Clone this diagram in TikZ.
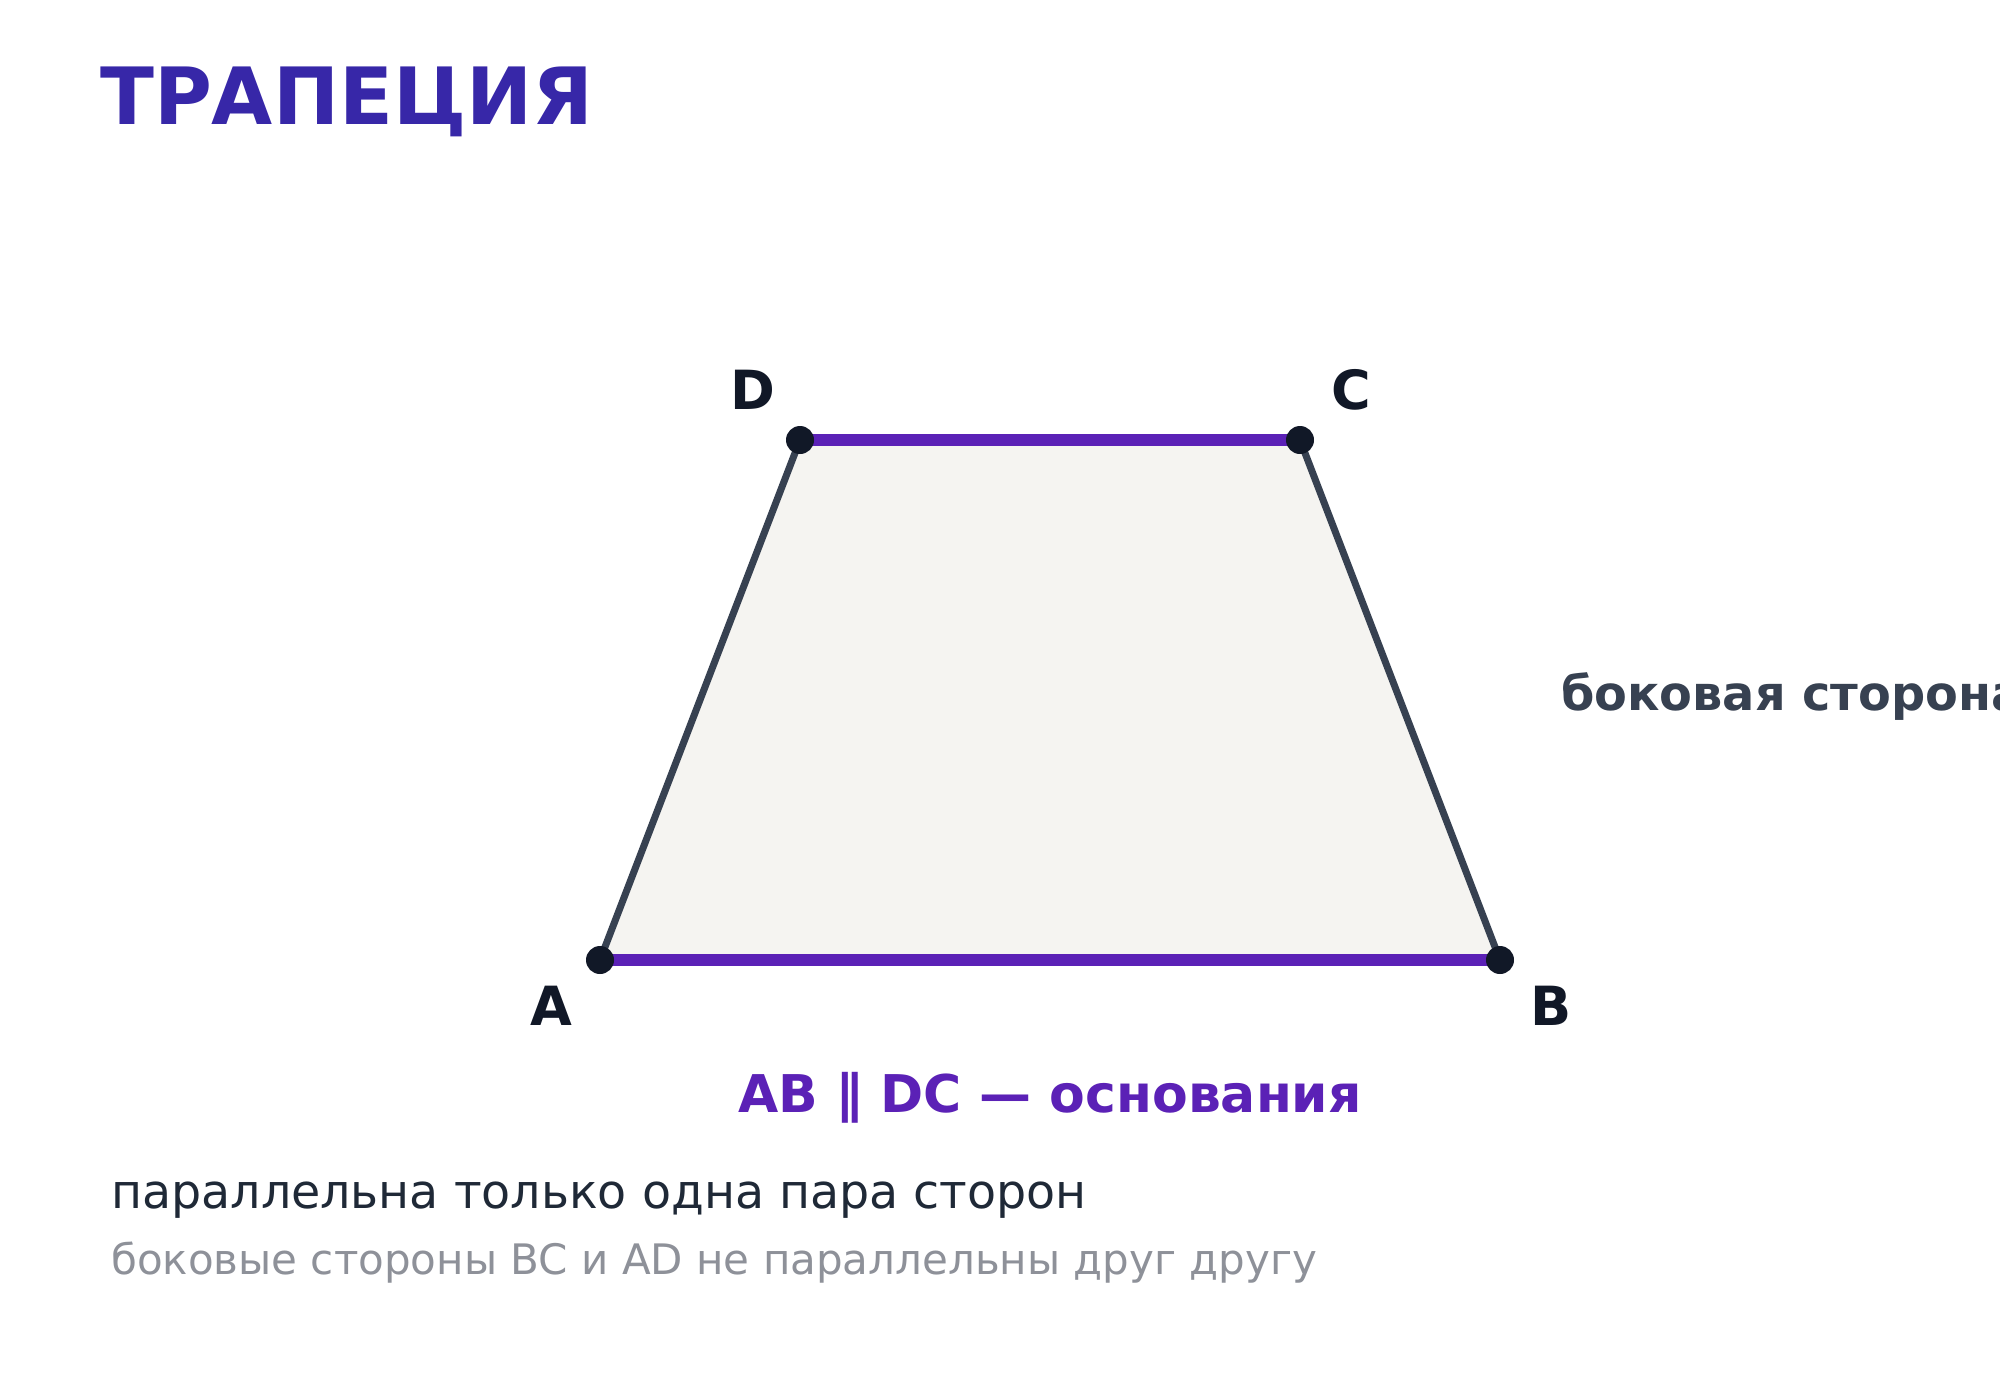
\documentclass[tikz,border=0pt]{standalone}
\usepackage{fontspec}
\setmainfont{DejaVu Sans}
\definecolor{titlecol}{HTML}{3727A8}
\definecolor{basecol}{HTML}{5B21B6}
\definecolor{sidecol}{HTML}{374151}
\definecolor{dotcol}{HTML}{111827}
\definecolor{fillcol}{HTML}{F5F4F1}
\definecolor{textcol}{HTML}{1F2937}
\definecolor{graycol}{HTML}{8E9199}
\tikzset{
  vdot/.style={circle,fill=dotcol,inner sep=0pt,minimum size=28pt},
  vlabel/.style={anchor=base,text=dotcol,font=\fontsize{54}{64}\selectfont\bfseries},
  sideline/.style={draw=sidecol,line width=7pt,line cap=round},
  baseedge/.style={draw=basecol,line width=12pt},
}
\begin{document}
\begin{tikzpicture}[x=1pt,y=-1pt]
\useasboundingbox (0,0) rectangle (2000,1400);
\clip (0,0) rectangle (2000,1400);
\fill[white] (0,0) rectangle (2000,1400);
\coordinate (A) at (600,960);
\coordinate (B) at (1500,960);
\coordinate (C) at (1300,440);
\coordinate (D) at (800,440);
\fill[fillcol] (A) -- (B) -- (C) -- (D) -- cycle;
\draw[sideline] (B) -- (C);
\draw[sideline] (A) -- (D);
\draw[baseedge] (A) -- (B);
\draw[baseedge] (D) -- (C);
\node[vdot] (dA) at (A) {};
\node[vdot] (dB) at (B) {};
\node[vdot] (dC) at (C) {};
\node[vdot] (dD) at (D) {};
\node[vlabel] (lA) at (551,1025) {A};
\node[vlabel] (lB) at (1551,1025) {B};
\node[vlabel] (lC) at (1351,409) {C};
\node[vlabel] (lD) at (753,409) {D};
\node[anchor=base west,inner sep=0pt,text=titlecol,font=\fontsize{79}{95}\selectfont\bfseries] (title) at (100,124) {ТРАПЕЦИЯ};
\node[anchor=base,inner sep=0pt,text=basecol,font=\fontsize{52}{62}\selectfont\bfseries] (bases) at (1050,1112) {AB ∥ DC — основания};
\node[anchor=base west,inner sep=0pt,text=sidecol,font=\fontsize{47.8}{57}\selectfont\bfseries] (side) at (1561,710) {боковая сторона};
\node[anchor=base west,inner sep=0pt,text=textcol,font=\fontsize{47.5}{57}\selectfont] (t1) at (111,1208) {параллельна только одна пара сторон};
\node[anchor=base west,inner sep=0pt,text=graycol,font=\fontsize{42}{50}\selectfont] (t2) at (111,1274) {боковые стороны BC и AD не параллельны друг другу};
\end{tikzpicture}
\end{document}
